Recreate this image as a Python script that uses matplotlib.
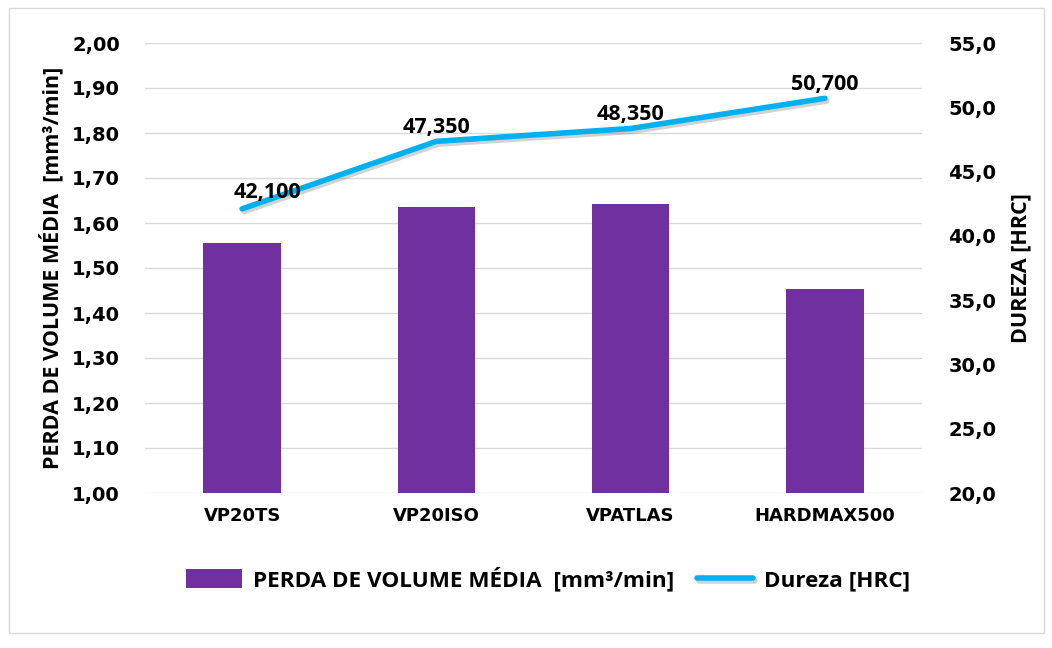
import matplotlib
matplotlib.use("Agg")
import matplotlib.pyplot as plt
from matplotlib import font_manager as fm
from matplotlib.patches import Rectangle
import matplotlib.patheffects as pe

categories = ["VP20TS", "VP20ISO", "VPATLAS", "HARDMAX500"]
perda = [1.556, 1.636, 1.643, 1.453]
dureza = [42.100, 47.350, 48.350, 50.700]
dureza_labels = ["42,100", "47,350", "48,350", "50,700"]
left_ticks = [1.0, 1.1, 1.2, 1.3, 1.4, 1.5, 1.6, 1.7, 1.8, 1.9, 2.0]
right_ticks = [20, 25, 30, 35, 40, 45, 50, 55]

names = {f.name for f in fm.fontManager.ttflist}
narrow = "Liberation Sans Narrow" if "Liberation Sans Narrow" in names else "Open Sans"

fig = plt.figure(figsize=(10.52, 6.48), dpi=100)
fig.patches.append(Rectangle((9/1052, 1 - 633/648), 1035/1052, 625/648,
                             transform=fig.transFigure, fill=False,
                             edgecolor="#D9D9D9", lw=1))
ax = fig.add_axes([145/1052, 1 - 493/648, 777/1052, 450/648])
ax2 = ax.twinx()

x = list(range(len(categories)))
ax.bar(x, perda, width=0.4, bottom=0, color="#7030A0", zorder=2,
       label="PERDA DE VOLUME MÉDIA  [mm³/min]")
ax.set_ylim(1.0, 2.0)
ax.set_xlim(-0.5, 3.5)
ax.set_yticks(left_ticks)
ax.set_yticklabels([f"{v:.2f}".replace(".", ",") for v in left_ticks],
                   fontsize=14, fontweight="bold")
ax.set_xticks(x)
ax.set_xticklabels(categories, fontsize=13, fontweight="bold")
ax.tick_params(axis="both", length=0, pad=10)
ax.tick_params(axis="y", pad=18)
ax.grid(axis="y", color="#D9D9D9", lw=1, zorder=0)
ax.set_axisbelow(True)
for s in ax.spines.values():
    s.set_visible(False)
ax.set_ylabel("PERDA DE VOLUME MÉDIA  [mm³/min]", fontsize=15.5, fontweight="bold",
              family=narrow, labelpad=6)

ax2.plot(x, dureza, color="#00B0F0", lw=4, solid_capstyle="round", zorder=3,
         label="Dureza [HRC]",
         path_effects=[pe.SimpleLineShadow(offset=(1.5, -2), shadow_color="gray", alpha=0.35),
                       pe.Normal()])
ax2.set_ylim(20, 55)
ax2.set_yticks(right_ticks)
ax2.set_yticklabels([f"{v:.1f}".replace(".", ",") for v in right_ticks],
                    fontsize=14, fontweight="bold")
ax2.tick_params(axis="y", length=0, pad=19)
for s in ax2.spines.values():
    s.set_visible(False)
ax2.set_ylabel("DUREZA [HRC]", fontsize=15.5, fontweight="bold", family=narrow,
               labelpad=10)

offsets = [(0.13, 1.3), (0, 1.1), (0, 1.1), (0, 1.1)]
for xi, yi, lab, (dx, dy) in zip(x, dureza, dureza_labels, offsets):
    ax2.text(xi + dx, yi + dy, lab, ha="center", va="center", fontsize=15.5,
             fontweight="bold", family=narrow)

h1, l1 = ax.get_legend_handles_labels()
h2, l2 = ax2.get_legend_handles_labels()
leg = fig.legend(h1 + h2, l1 + l2, loc="center", bbox_to_anchor=(548/1052, 1 - 579/648),
                 ncol=2, frameon=False, prop={"family": narrow, "weight": "bold", "size": 16.2},
                 handlelength=2.5, handleheight=0.9, columnspacing=1.0, handletextpad=0.5)

fig.savefig("out.png", dpi=100)
